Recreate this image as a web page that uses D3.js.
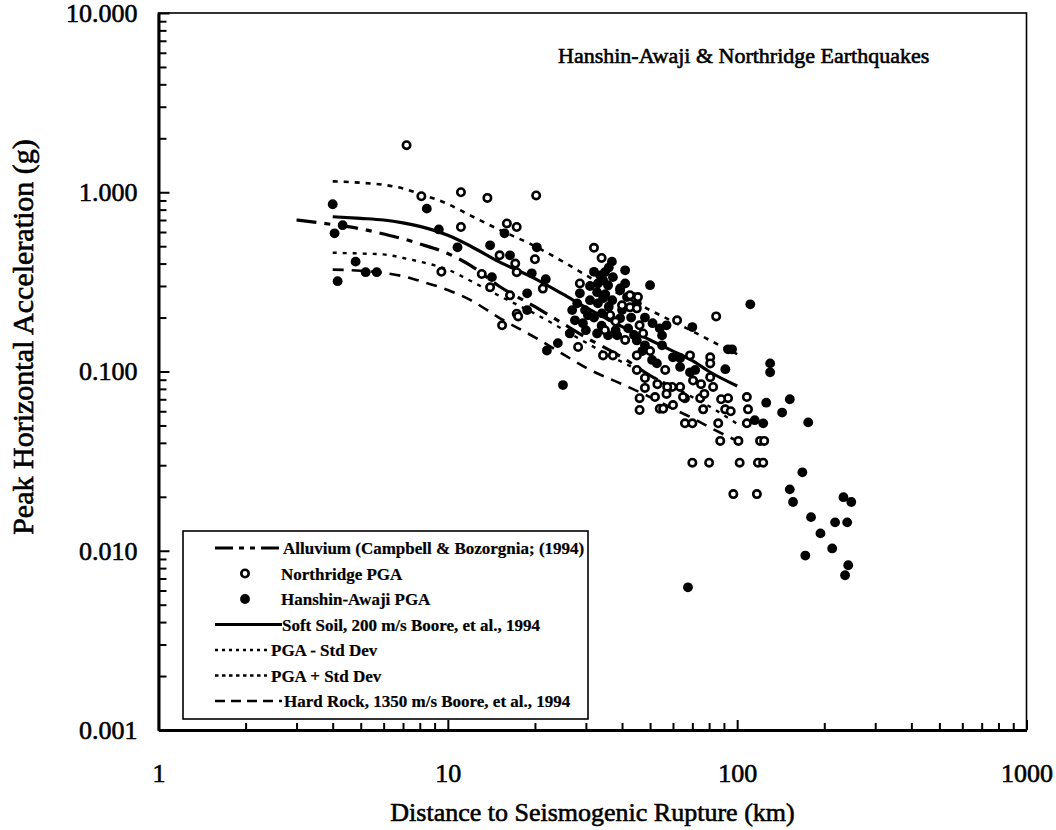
<!DOCTYPE html>
<html><head><meta charset="utf-8">
<script src="https://cdn.jsdelivr.net/npm/d3@7/dist/d3.min.js"></script>
<style>
body{margin:0;background:#fff}
text{font-family:"Liberation Serif","Times New Roman",serif;fill:#000;stroke:#000;stroke-width:0.6px}
</style>
</head><body><svg id="c" width="1056" height="830"></svg>
<script>
// ---------- DATA ----------
const curveDistances = [4,5,6,7,8,10,12,15,20,25,30,40,50,60,70,80,100];
const softSoil  = [0.73,0.715,0.70,0.675,0.645,0.575,0.50,0.41,0.33,0.27,0.228,0.178,0.15,0.13,0.115,0.10,0.083];
const plusStd   = [1.15,1.13,1.10,1.05,0.98,0.86,0.74,0.62,0.50,0.41,0.345,0.265,0.22,0.19,0.168,0.15,0.125];
const minusStd  = [0.46,0.455,0.45,0.43,0.41,0.37,0.32,0.265,0.21,0.172,0.145,0.113,0.095,0.082,0.072,0.064,0.051];
const hardRock  = [0.37,0.365,0.355,0.34,0.32,0.285,0.25,0.20,0.155,0.125,0.105,0.085,0.072,0.062,0.055,0.049,0.041];
const alluviumDistances = [3,4,5,6,7,8,10,12,15,20,25,30,40,50,60];
const alluvium  = [0.70,0.66,0.625,0.585,0.55,0.515,0.455,0.39,0.30,0.23,0.185,0.155,0.12,0.095,0.08];

const northridgeDist = [7.2,8.1,11.1,13.7,20.2,11.1,9.5,16.0,17.3,15.1,17.1,13.1,14.0,16.4,17.3,17.3,20.0,17.5,15.4,21.3,
  32,34,28.6,40,42.6,45,43.7,45.4,62,68.7,46,47.3,45,45,28.2,34.4,37.2,56.4,48,48,
  59.6,63.5,66,46,46,54,55.5,66,70,84.6,80.7,80.7,108,109,86,108,87.4,101,120,124,
  70,80,102,118,123,97,117,42.6,36.4,70.4,57.3,80.7,82.6,65,74.5,76.3,90.9,93,34.9,
  38,41,50,53,57,75,88,60,77,52,95];
const northridgePGA = [1.83,0.95,1.0,0.93,0.96,0.64,0.36,0.67,0.64,0.445,0.40,0.35,0.295,0.266,0.21,0.358,0.423,0.203,0.181,0.29,
  0.49,0.43,0.31,0.234,0.228,0.225,0.26,0.26,0.193,0.123,0.181,0.163,0.123,0.102,0.137,0.123,0.123,0.102,0.092,0.081,
  0.082,0.082,0.071,0.071,0.061,0.062,0.062,0.0514,0.0514,0.203,0.12,0.111,0.072,0.0615,0.0514,0.0514,0.041,0.041,0.041,0.041,
  0.031,0.031,0.031,0.031,0.031,0.0207,0.0207,0.266,0.206,0.089,0.082,0.093,0.082,0.072,0.071,0.0615,0.0615,0.071,0.17,
  0.19,0.15,0.13,0.085,0.075,0.085,0.07,0.065,0.075,0.072,0.06];

const hanshinDist = [4.0,4.33,4.06,4.8,5.2,5.68,4.16,8.46,9.31,10.8,14,16.4,14.2,15.7,20.3,19.5,21.8,18.8,18.8,22,
  24,25,50,37.2,34.4,39.4,70,111,93,96,91,130,130,126,152,143,176,115,123,168,
  152,156,180,194,172,213,233,248,218,240,242,236,67.6,33.6,34.9,35.8,34.4,32.8,39.4,41.6,
  29.8,30.5,33,34.1,36.4,39.4,32.8,35.8,38.5,42,45,51,54,57,50.8,52.8,63.5,26.4,28.6,26.9,
  27.5,29.3,36.9,41,48,55,63.5,68.7,71.6,
  31,33,35,37,31,36,40,43,32,34,38,44,47,30,28,45,41,36,32,55,60,48];
const hanshinPGA = [0.857,0.655,0.59,0.41,0.358,0.358,0.319,0.81,0.62,0.493,0.506,0.445,0.336,0.59,0.493,0.353,0.327,0.273,0.22,0.131,
  0.144,0.084,0.303,0.336,0.323,0.284,0.177,0.237,0.133,0.133,0.103,0.111,0.099,0.067,0.070,0.059,0.052,0.0535,0.0514,0.0274,
  0.022,0.0187,0.0154,0.0125,0.0094,0.0103,0.0199,0.0187,0.0144,0.0144,0.0083,0.0073,0.00625,0.344,0.358,0.303,0.256,0.277,0.291,0.26,
  0.22,0.206,0.24,0.211,0.201,0.198,0.163,0.159,0.159,0.174,0.149,0.186,0.174,0.181,0.116,0.111,0.119,0.163,0.273,0.22,
  0.193,0.186,0.41,0.367,0.14,0.159,0.106,0.099,0.102,
  0.30,0.31,0.27,0.25,0.25,0.23,0.22,0.20,0.20,0.18,0.17,0.16,0.13,0.17,0.24,0.24,0.31,0.38,0.36,0.14,0.12,0.20];

const yTickValues = [10,1,0.1,0.01,0.001];
const xTickValues = [1,10,100,1000];
const chartTitle = "Hanshin-Awaji & Northridge Earthquakes";
const xTitle = "Distance to Seismogenic Rupture (km)";
const yTitle = "Peak Horizontal Acceleration (g)";
const legendLabels = ["Alluvium (Campbell & Bozorgnia; (1994)","Northridge PGA","Hanshin-Awaji PGA",
  "Soft Soil, 200 m/s Boore, et al., 1994","PGA - Std Dev","PGA + Std Dev","Hard Rock, 1350 m/s Boore, et al., 1994"];

// ---------- CHART ----------
const svg = d3.select("#c");
const L = 158.5, R = 1026.5, T = 13, B = 730;
const x = d3.scaleLog().domain([1,1000]).range([L,R]);
const y = d3.scaleLog().domain([0.001,10]).range([B,T]);

svg.append("rect").attr("x",L).attr("y",T).attr("width",R-L).attr("height",B-T)
  .attr("fill","none").attr("stroke","#000").attr("stroke-width",1.6);

const yAll = [], xAll = [];
for (let e=-3;e<1;e++) for (let m=1;m<10;m++) yAll.push(m*Math.pow(10,e));
yAll.push(10);
for (let e=0;e<3;e++) for (let m=1;m<10;m++) xAll.push(m*Math.pow(10,e));
xAll.push(1000);
const isMajor = v => Math.abs(Math.log10(v) - Math.round(Math.log10(v))) < 1e-9;

const yAxis = d3.axisLeft(y).tickValues(yAll).tickSizeInner(-8).tickSizeOuter(0).tickPadding(21)
  .tickFormat(d => yTickValues.some(t=>Math.abs(t-d)<1e-12) ? d3.format(".3f")(d) : "");
const gy = svg.append("g").attr("transform",`translate(${L},0)`).call(yAxis);
gy.select(".domain").attr("stroke-width",3);
gy.selectAll(".tick line").attr("stroke-width",2).attr("x2",d=>isMajor(d)?11:8);
gy.selectAll(".tick text").attr("font-size",26).attr("font-family","Liberation Serif");

const xAxis = d3.axisBottom(x).tickValues(xAll).tickSizeInner(-7).tickSizeOuter(0).tickPadding(34)
  .tickFormat(d => xTickValues.some(t=>Math.abs(t-d)<1e-9) ? String(d) : "");
const gx = svg.append("g").attr("transform",`translate(0,${B})`).call(xAxis);
gx.select(".domain").attr("stroke-width",3);
gx.selectAll(".tick line").attr("stroke-width",2).attr("y2",d=>isMajor(d)?-10:-7);
gx.selectAll(".tick text").attr("font-size",26).attr("font-family","Liberation Serif");

svg.append("text").attr("x",558).attr("y",63).attr("font-size",22).text(chartTitle);
svg.append("text").attr("x",(L+R)/2).attr("y",821).attr("text-anchor","middle").attr("font-size",26).text(xTitle);
svg.append("text").attr("transform","translate(33,337) rotate(-90)").attr("text-anchor","middle").attr("font-size",30).text(yTitle);

const line = d3.line().x(d=>x(d[0])).y(d=>y(d[1])).curve(d3.curveMonotoneX);
const styles = {
  soft:{w:3.2,dash:null},
  plus:{w:2.6,dash:"5,6"},
  minus:{w:2.4,dash:"4,6"},
  hard:{w:2.6,dash:"11,8"},
  allu:{w:3.2,dash:"20,8,6,8"}
};
const curves = [
  {key:"allu", pts:d3.zip(alluviumDistances, alluvium)},
  {key:"hard", pts:d3.zip(curveDistances, hardRock)},
  {key:"minus",pts:d3.zip(curveDistances, minusStd)},
  {key:"plus", pts:d3.zip(curveDistances, plusStd)},
  {key:"soft", pts:d3.zip(curveDistances, softSoil)}
];
svg.append("g").selectAll("path").data(curves).join("path")
  .attr("d",c=>line(c.pts)).attr("fill","none").attr("stroke","#000")
  .attr("stroke-width",c=>styles[c.key].w).attr("stroke-dasharray",c=>styles[c.key].dash);

svg.append("g").selectAll("circle").data(d3.zip(hanshinDist,hanshinPGA)).join("circle")
  .attr("cx",d=>x(d[0])).attr("cy",d=>y(d[1])).attr("r",4.9).attr("fill","#000");
svg.append("g").selectAll("circle").data(d3.zip(northridgeDist,northridgePGA)).join("circle")
  .attr("cx",d=>x(d[0])).attr("cy",d=>y(d[1])).attr("r",3.7).attr("fill","#fff")
  .attr("stroke","#000").attr("stroke-width",2.6);

const lg = svg.append("g");
lg.append("rect").attr("x",183).attr("y",531).attr("width",405).attr("height",188)
  .attr("fill","#fff").attr("stroke","#000").attr("stroke-width",1.6);
const rowY = i => 548 + i*25.5;
const lineRows = [
  {i:0,key:"allu",x2:282,dash:"18,6,5,6,5,6",tx:283},
  {i:3,key:"soft",x2:282,dash:null,tx:282},
  {i:4,key:"minus",x2:267,dash:"3,4",tx:271},
  {i:5,key:"plus",x2:267,dash:"3.5,3.5",tx:271},
  {i:6,key:"hard",x2:282,dash:"10,6",tx:284}
];
const legendText = (xx,yy,s) => lg.append("text").attr("x",xx).attr("y",yy).attr("font-size",17)
  .attr("font-weight","bold").style("stroke-width","0.2px").text(s);
lineRows.forEach(r=>{
  lg.append("line").attr("x1",215).attr("x2",r.x2).attr("y1",rowY(r.i)).attr("y2",rowY(r.i))
    .attr("stroke","#000").attr("stroke-width",styles[r.key].w).attr("stroke-dasharray",r.dash);
  legendText(r.tx, rowY(r.i)+6, legendLabels[r.i]);
});
lg.append("circle").attr("cx",245).attr("cy",rowY(1)).attr("r",3.7).attr("fill","#fff").attr("stroke","#000").attr("stroke-width",2.6);
legendText(281, rowY(1)+6, legendLabels[1]);
lg.append("circle").attr("cx",245).attr("cy",rowY(2)).attr("r",4.9).attr("fill","#000");
legendText(281, rowY(2)+6, legendLabels[2]);
</script></body></html>
